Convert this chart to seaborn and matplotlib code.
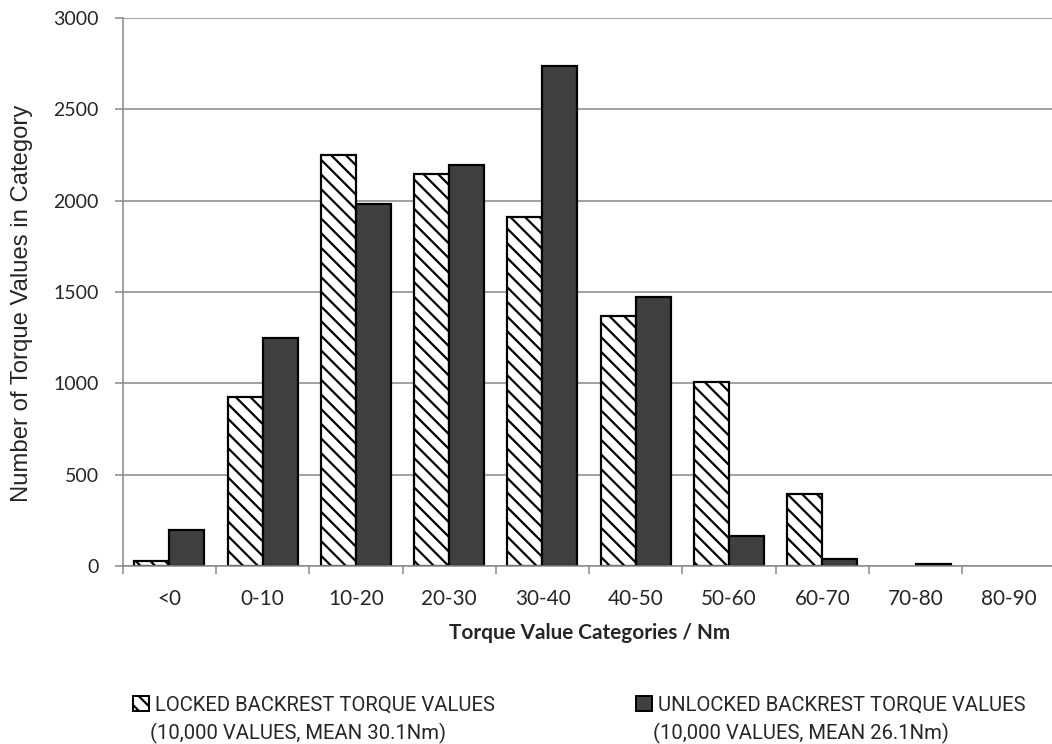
import matplotlib
matplotlib.use("Agg")
import matplotlib.pyplot as plt
from matplotlib import font_manager
from matplotlib.patches import Patch
import seaborn as sns
import pandas as pd
import numpy as np

# torque histogram, counts per category
categories = ["<0", "0-10", "10-20", "20-30", "30-40", "40-50", "50-60", "60-70", "70-80", "80-90"]
locked = [25, 927, 2248, 2146, 1912, 1370, 1005, 392, 0, 0]
unlocked = [197, 1246, 1981, 2195, 2737, 1474, 166, 40, 10, 0]
series = ["Locked", "Unlocked"]
legend_line1 = ["LOCKED BACKREST TORQUE VALUES", "UNLOCKED BACKREST TORQUE VALUES"]
legend_line2 = ["(10,000 VALUES, MEAN 30.1Nm)", "(10,000 VALUES, MEAN 26.1Nm)"]
y_ticks = [0, 500, 1000, 1500, 2000, 2500, 3000]

df = pd.DataFrame({
    "Category": categories * 2,
    "Count": locked + unlocked,
    "Series": [series[0]] * len(categories) + [series[1]] * len(categories),
})

DPI = 88
W, H = 1052, 744
GRID = "#8c8c8c"
DARK = "#404040"
HATCH = "\\\\"

installed = {f.name for f in font_manager.fontManager.ttflist}
if "Liberation Sans Narrow" in installed:
    narrow, leg_size = "Liberation Sans Narrow", 18.4
else:
    narrow, leg_size = "Roboto", 16.6
LATO = ["Lato", "DejaVu Sans"]

sns.set_style("white")
plt.rcParams["font.family"] = ["Liberation Sans", "DejaVu Sans"]
plt.rcParams["hatch.linewidth"] = 1.8

fig = plt.figure(figsize=(W / DPI, H / DPI), dpi=DPI)
ax = fig.add_axes([122.7 / W, 1 - 566 / H, 932.8 / W, 548 / H])

sns.barplot(data=df, x="Category", y="Count", hue="Series", order=categories,
            hue_order=series, palette=["white", DARK], saturation=1,
            edgecolor="black", linewidth=1.8, width=0.75, legend=False, ax=ax)

for bar in ax.containers[0]:
    bar.set_hatch(HATCH)
for cont in ax.containers:
    for bar in cont:
        if bar.get_height() == 0:
            bar.set_linewidth(0)

ax.set_xlim(-0.5, len(categories) - 0.5)
ax.set_ylim(0, 3000)
ax.set_yticks(y_ticks)
ax.set_axisbelow(True)
ax.yaxis.grid(True, color=GRID, linewidth=1.3)
ax.xaxis.grid(False)

for side in ["top", "right"]:
    ax.spines[side].set_visible(False)
for side in ["left", "bottom"]:
    ax.spines[side].set_color(GRID)
    ax.spines[side].set_linewidth(1.3)

# ticks between categories, labels centred
ax.set_xticks(np.arange(-0.5, len(categories), 1), minor=True)
ax.tick_params(axis="x", which="minor", bottom=True, length=6.5, width=1.3, color=GRID)
ax.tick_params(axis="x", which="major", length=0, pad=19, labelsize=17)
ax.tick_params(axis="y", which="major", left=True, length=6.5, width=1.3, color=GRID,
               pad=13, labelsize=16)
for lab in ax.get_xticklabels() + ax.get_yticklabels():
    lab.set_fontfamily(LATO)

ax.set_xlabel("")
ax.set_ylabel("Number of Torque Values in Category", fontsize=19.5)
ax.yaxis.set_label_coords(-0.0965, 0.48)
fig.text((122.7 + 932.8 / 2) / W, 1 - 633 / H, "Torque Value Categories / Nm", ha="center",
         va="center", fontsize=17, fontweight="bold", family=LATO)

handles = [
    Patch(facecolor="white", edgecolor="black", hatch=HATCH, linewidth=1.6),
    Patch(facecolor=DARK, edgecolor="black", linewidth=1.6),
]
handle_x = [133, 636]
for h, l1, l2, hx in zip(handles, legend_line1, legend_line2, handle_x):
    fig.legend([h], [l1], loc="center left", bbox_to_anchor=(hx / W, 1 - 705 / H),
               frameon=False, borderpad=0, borderaxespad=0, handlelength=0.8,
               handleheight=0.8, handletextpad=0.3,
               prop={"family": [narrow, "DejaVu Sans"], "size": leg_size})
    fig.text((hx + 17) / W, 1 - 733 / H, l2, ha="left", va="center",
             fontsize=leg_size, family=[narrow, "DejaVu Sans"])

fig.savefig("out.png", dpi=DPI)
